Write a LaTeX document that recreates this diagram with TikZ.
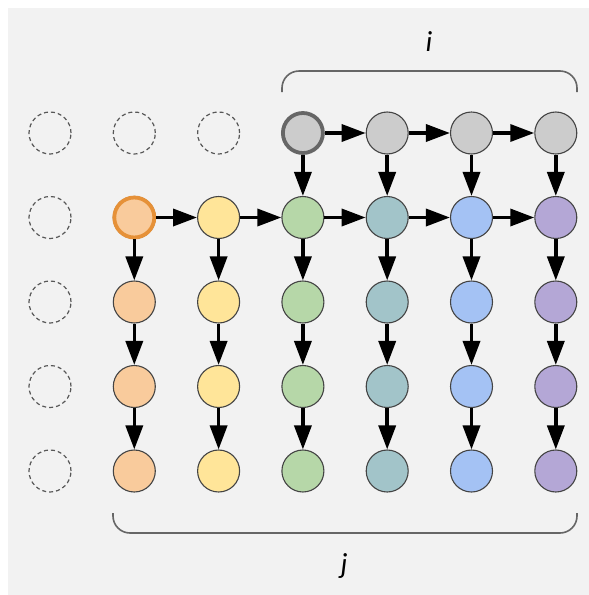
\documentclass[tikz,border=0pt]{standalone}
\usepackage{fontspec}
\setmainfont{Carlito}
\usetikzlibrary{arrows.meta}
\definecolor{bgc}{HTML}{F2F2F2}
\definecolor{cOr}{HTML}{F9CB9C}
\definecolor{cOrB}{HTML}{E69138}
\definecolor{cYe}{HTML}{FFE599}
\definecolor{cGr}{HTML}{B6D7A8}
\definecolor{cTe}{HTML}{A2C4C9}
\definecolor{cBl}{HTML}{A4C2F4}
\definecolor{cPu}{HTML}{B4A7D6}
\definecolor{cGy}{HTML}{CCCCCC}
\definecolor{cGyB}{HTML}{666666}
\definecolor{cEdge}{HTML}{444444}
\tikzset{
  cell/.style={circle, minimum size=42pt, inner sep=0pt, draw=cEdge, line width=1.1pt},
  ghost/.style={circle, minimum size=42pt, inner sep=0pt, draw=cEdge!90, line width=1.2pt, dash pattern=on 4pt off 3pt},
  thickcell/.style={cell, line width=3.8pt, minimum size=40pt},
  flow/.style={line width=3.5pt, -{Triangle[length=24pt,width=17pt]}},
  bracket/.style={draw=cGyB, line width=1.6pt, rounded corners=17pt},
  lbl/.style={font=\fontsize{29}{29}\selectfont\itshape, anchor=base}
}
\begin{document}
\begin{tikzpicture}[x=1pt,y=-1pt]
\useasboundingbox (0,0) rectangle (589,595);
\fill[bgc] (8,8) rectangle (589,595);
% ghost circles
\foreach \r in {0,...,4} {
  \node[ghost] (g-\r) at (50, 133+84.5*\r) {};
}
\node[ghost] (g-t1) at (50+84.3*1, 133) {};
\node[ghost] (g-t2) at (50+84.3*2, 133) {};
% top gray row
\node[thickcell, fill=cGy, draw=cGyB] (n-0-3) at (50+84.3*3, 133) {};
\foreach \k in {4,5,6} {
  \node[cell, fill=cGy] (n-0-\k) at (50+84.3*\k, 133) {};
}
% colored columns
\foreach \k/\col in {1/cOr,2/cYe,3/cGr,4/cTe,5/cBl,6/cPu} {
  \foreach \r in {1,...,4} {
    \node[cell, fill=\col] (n-\r-\k) at (50+84.3*\k, 133+84.5*\r) {};
  }
}
\node[thickcell, fill=cOr, draw=cOrB] at (n-1-1) {};
% horizontal arrows
\draw[flow] (n-0-3) -- (n-0-4);
\draw[flow] (n-0-4) -- (n-0-5);
\draw[flow] (n-0-5) -- (n-0-6);
\foreach \a/\b in {1/2,2/3,3/4,4/5,5/6} {
  \draw[flow] (n-1-\a) -- (n-1-\b);
}
% vertical arrows
\foreach \k in {3,4,5,6} {
  \draw[flow] (n-0-\k) -- (n-1-\k);
}
\foreach \k in {1,...,6} {
  \foreach \a/\b in {1/2,2/3,3/4} {
    \draw[flow] (n-\a-\k) -- (n-\b-\k);
  }
}
% brackets
\coordinate (tb1) at (282,92);
\coordinate (tb2) at (577,92);
\draw[bracket] (tb1) -- (282,71) -- (577,71) -- (tb2);
\coordinate (bb1) at (113,513);
\coordinate (bb2) at (577,513);
\draw[bracket] (bb1) -- (113,533) -- (577,533) -- (bb2);
\node[lbl] (li) at (429,51) {i};
\node[lbl] (lj) at (344,573) {j};
\end{tikzpicture}
\end{document}
